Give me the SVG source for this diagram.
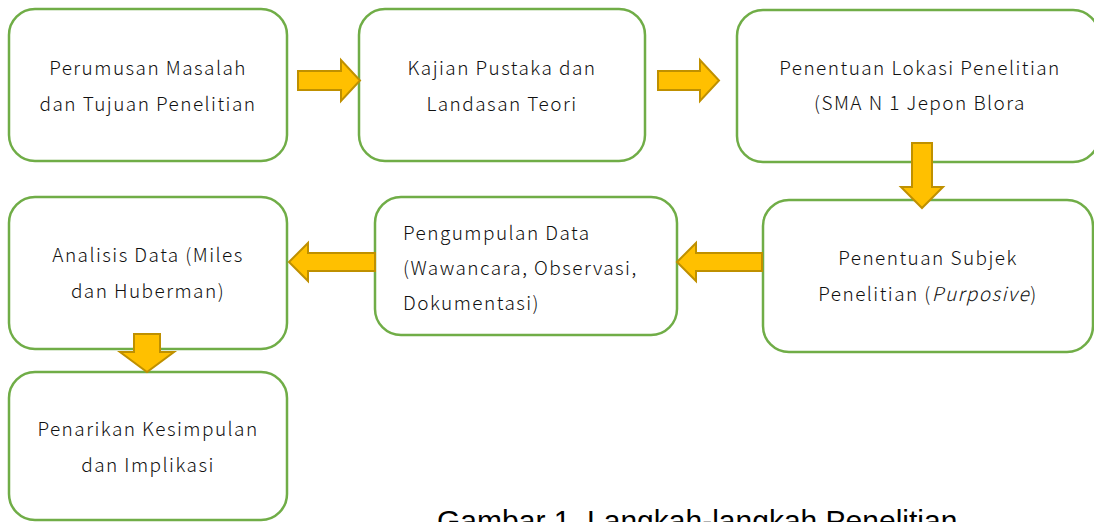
<svg xmlns="http://www.w3.org/2000/svg" width="1094" height="522" viewBox="0 0 1094 522">
<style>
.box{fill:#fff;stroke:#70AD47;stroke-width:2.5}
.arr{fill:#FFC000;stroke:#BF9000;stroke-width:2;stroke-linejoin:miter}
.t{font-family:"Noto Sans CJK JP","Noto Sans",sans-serif;font-size:19px;font-weight:300;fill:#111;letter-spacing:1.45px}
.c{text-anchor:middle}
.cap{font-family:"Liberation Sans",Arial,sans-serif;font-size:30px;fill:#000}
</style>
<rect width="1094" height="522" fill="#fff"/>
<g id="n1"><rect class="box" x="9" y="9" width="278" height="152" rx="26"/>
<text class="t c" x="148" y="75">Perumusan Masalah</text><text class="t c" x="148" y="111">dan Tujuan Penelitian</text></g>
<g id="n2"><rect class="box" x="359" y="9" width="286" height="152" rx="26"/>
<text class="t c" x="502" y="75">Kajian Pustaka dan</text><text class="t c" x="502" y="111">Landasan Teori</text></g>
<g id="n3"><rect class="box" x="737" y="10" width="362" height="152" rx="26"/>
<text class="t c" x="920" y="75">Penentuan Lokasi Penelitian</text><text class="t c" x="920" y="110">(SMA N 1 Jepon Blora</text></g>
<g id="n4"><rect class="box" x="763" y="200" width="330" height="152" rx="26"/>
<text class="t c" x="928" y="265">Penentuan Subjek</text><text class="t c" x="928" y="301">Penelitian (<tspan font-style="italic">Purposive</tspan>)</text></g>
<g id="n5"><rect class="box" x="375" y="197" width="302" height="138" rx="26"/>
<text class="t" x="403" y="240">Pengumpulan Data</text><text class="t" x="403" y="275">(Wawancara, Observasi,</text><text class="t" x="403" y="310">Dokumentasi)</text></g>
<g id="n6"><rect class="box" x="9" y="197" width="278" height="152" rx="26"/>
<text class="t c" x="148" y="262">Analisis Data (Miles</text><text class="t c" x="148" y="298">dan Huberman)</text></g>
<g id="n7"><rect class="box" x="9" y="372" width="278" height="148" rx="26"/>
<text class="t c" x="148" y="436">Penarikan Kesimpulan</text><text class="t c" x="148" y="472">dan Implikasi</text></g>
<g id="connectors">
<path class="arr" d="M298,71 H341 V60 L360,80.5 L341,101 V90 H298 Z"/>
<path class="arr" d="M658,71 H700 V60 L719,80.5 L700,101 V90 H658 Z"/>
<path class="arr" d="M912,143 V187 H901 L922,208 L943,187 H932 V143 Z"/>
<path class="arr" d="M762,253 H696 V243 L677,262 L696,281 V271 H762 Z"/>
<path class="arr" d="M375,253 H308 V243 L289,262 L308,281 V271 H375 Z"/>
<path class="arr" d="M134,334 V352 H120 L147,372 L174,352 H160 V334 Z"/>
</g>
<text class="cap" x="437" y="531">Gambar 1. Langkah-langkah Penelitian</text>
</svg>
